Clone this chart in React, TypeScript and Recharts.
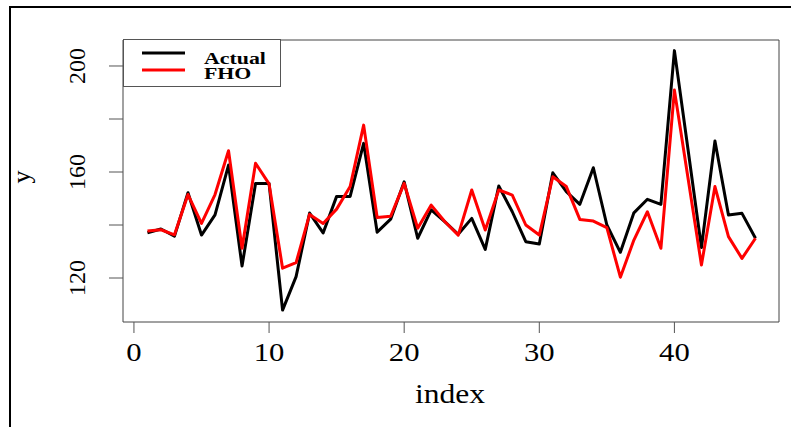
import React from "react";
import { LineChart, Line, XAxis, YAxis, ReferenceArea } from "recharts";

const indexValues = [
  1, 2, 3, 4, 5, 6, 7, 8, 9, 10, 11, 12, 13, 14, 15, 16, 17, 18, 19, 20, 21, 22, 23,
  24, 25, 26, 27, 28, 29, 30, 31, 32, 33, 34, 35, 36, 37, 38, 39, 40, 41, 42, 43, 44,
  45, 46,
];
const actualValues = [
  137.1, 138.5, 135.8, 152.2, 136.2, 143.8, 162.6, 124.5, 155.7, 155.7, 107.9, 120.5,
  144.5, 137.0, 150.8, 150.8, 170.8, 137.3, 142.2, 156.3, 135.0, 145.7, 141.3, 136.5,
  142.5, 130.8, 154.7, 145.0, 133.7, 132.8, 159.7, 152.6, 147.8, 161.6, 140.0, 129.7,
  144.6, 149.7, 147.8, 205.8, 168.8, 131.5, 171.7, 143.8, 144.4, 135.0,
];
const fhoValues = [
  137.7, 138.2, 136.3, 151.5, 140.6, 151.5, 168.0, 131.2, 163.3, 155.5, 123.7, 125.8,
  144.0, 140.6, 146.0, 154.5, 177.7, 142.8, 143.3, 155.7, 138.8, 147.5, 141.3, 136.2,
  153.2, 138.1, 153.2, 151.3, 140.0, 136.2, 158.2, 154.5, 142.1, 141.5, 139.0, 120.3,
  134.3, 145.0, 131.2, 190.9, 157.9, 124.9, 154.5, 135.6, 127.4, 135.0,
];
const xTicks = [0, 10, 20, 30, 40];
const yTicks = [120, 140, 160, 180, 200];
const yLabelTicks = [120, 160, 200];
const seriesNames = ["Actual", "FHO"];

const data = indexValues.map((idx, i) => ({
  index: idx,
  actual: actualValues[i],
  fho: fhoValues[i],
}));

const X_DOMAIN: [number, number] = [-0.81, 47.74];
const Y_DOMAIN: [number, number] = [103.4, 209.81];
const SERIF = "'Liberation Serif', 'DejaVu Serif', serif";

const XTick = (props: any) => {
  const { x, payload } = props;
  return (
    <g>
      <line x1={x} x2={x} y1={322} y2={333} stroke="#555" strokeWidth={1} />
      <g transform={`translate(${x},361)`}>
        <text transform="scale(1.18,1)" textAnchor="middle" fontFamily={SERIF} fontSize={26} fill="#000">
          {payload.value}
        </text>
      </g>
    </g>
  );
};

const YTick = (props: any) => {
  const { y, payload } = props;
  const show = yLabelTicks.includes(payload.value);
  return (
    <g>
      <line x1={109} x2={123} y1={y} y2={y} stroke="#555" strokeWidth={1} />
      {show && (
        <text
          transform={`translate(85,${y}) rotate(-90)`}
          textAnchor="middle"
          fontFamily={SERIF}
          fontSize={24}
          fill="#000"
        >
          {payload.value}
        </text>
      )}
    </g>
  );
};

const LegendBox = () => (
  <svg
    width={159}
    height={48}
    style={{ position: "absolute", left: 123, top: 39, overflow: "visible" }}
  >
    <rect x={0.5} y={0.5} width={157} height={47} fill="#fff" stroke="#555" strokeWidth={1} />
    <line x1={19} x2={62} y1={14} y2={14} stroke="#000" strokeWidth={3} />
    <line x1={19} x2={62} y1={31} y2={31} stroke="#ff0000" strokeWidth={3} />
    <g transform="translate(81,25)">
      <text transform="scale(1.25,1)" fontFamily={SERIF} fontWeight="bold" fontSize={17.5} fill="#000">
        {seriesNames[0]}
      </text>
    </g>
    <g transform="translate(81,39.5)">
      <text transform="scale(1.25,1)" fontFamily={SERIF} fontWeight="bold" fontSize={17.5} fill="#000">
        {seriesNames[1]}
      </text>
    </g>
  </svg>
);

export default function App() {
  return (
    <div style={{ position: "absolute", left: 0, top: 0, width: 791, height: 427, background: "#fff", overflow: "hidden" }}>
      <LineChart
        width={791}
        height={427}
        data={data}
        margin={{ top: 40, right: 12, bottom: 65, left: 63 }}
      >
        <XAxis
          dataKey="index"
          type="number"
          domain={X_DOMAIN}
          ticks={xTicks}
          allowDataOverflow
          axisLine={false}
          tickLine={false}
          tick={<XTick />}
          height={40}
          interval={0}
        />
        <YAxis
          type="number"
          domain={Y_DOMAIN}
          ticks={yTicks}
          allowDataOverflow
          axisLine={false}
          tickLine={false}
          tick={<YTick />}
          width={60}
          interval={0}
        />
        <ReferenceArea
          x1={X_DOMAIN[0]}
          x2={X_DOMAIN[1]}
          y1={Y_DOMAIN[0]}
          y2={Y_DOMAIN[1]}
          fill="none"
          fillOpacity={0}
          stroke="#444"
          strokeWidth={1}
          ifOverflow="visible"
        />
        <Line
          type="linear"
          dataKey="actual"
          name={seriesNames[0]}
          stroke="#000"
          strokeWidth={3}
          dot={false}
          activeDot={false}
          isAnimationActive={false}
          strokeLinejoin="round"
        />
        <Line
          type="linear"
          dataKey="fho"
          name={seriesNames[1]}
          stroke="#ff0000"
          strokeWidth={3}
          dot={false}
          activeDot={false}
          isAnimationActive={false}
          strokeLinejoin="round"
        />
      </LineChart>
      <LegendBox />
      <div style={{ position: "absolute", left: 9, top: 6, width: 782, height: 2, background: "#000" }} />
      <div style={{ position: "absolute", left: 9, top: 6, width: 2, height: 421, background: "#000" }} />
      <svg
        width={791}
        height={427}
        style={{ position: "absolute", left: 0, top: 0, pointerEvents: "none" }}
      >
        <text x={30} y={177} transform="rotate(-90,30,177)" textAnchor="middle" fontFamily={SERIF} fontSize={26} fill="#000">
          y
        </text>
        <g transform="translate(450,403)">
          <text transform="scale(1.17,1)" textAnchor="middle" fontFamily={SERIF} fontSize={27} fill="#000">
            index
          </text>
        </g>
      </svg>
    </div>
  );
}
